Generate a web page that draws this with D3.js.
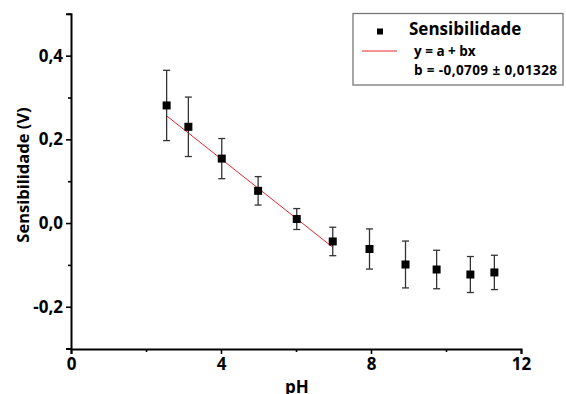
<!DOCTYPE html>
<html><head><meta charset="utf-8">
<script src="https://cdn.jsdelivr.net/npm/d3@7"></script>
<style>
body{margin:0;background:#fff;}
text{font-family:"Open Sans","Liberation Sans",sans-serif;font-weight:bold;}
</style></head>
<body><svg id="c" width="566" height="394"></svg>
<script>
const pH = [2.55, 3.13, 4.02, 4.99, 6.02, 6.98, 7.96, 8.92, 9.75, 10.65, 11.29];
const sens = [0.281, 0.230, 0.154, 0.077, 0.0096, -0.044, -0.062, -0.099, -0.111, -0.123, -0.118];
const errs = [0.084, 0.071, 0.048, 0.034, 0.025, 0.034, 0.048, 0.056, 0.046, 0.043, 0.041];
const fitA = 0.437, fitB = -0.0709;
const fitRange = [2.55, 6.98];
const xTicks = [0, 4, 8, 12];
const xMinor = [2, 6, 10];
const yTicks = [-0.2, 0, 0.2, 0.4];
const yMinor = [-0.3, -0.1, 0.1, 0.3, 0.5];
const legendTitle = "Sensibilidade";
const legendLines = ["y = a + bx", "b = -0,0709 ± 0,01328"];

const svg = d3.select("#c");
const x = d3.scaleLinear().domain([0, 12]).range([71, 521]);
const y = d3.scaleLinear().domain([-0.3, 0.5]).range([348.6, 13.8]);
const fmt = d => d3.format(".1f")(d).replace(".", ",").replace("−","-");

// axes
const xa = svg.append("g").attr("transform", "translate(0,349)")
  .call(d3.axisBottom(x).tickValues(xTicks).tickSize(5).tickPadding(4).tickFormat(d3.format("d")));
const xm = svg.append("g").attr("transform", "translate(0,349)")
  .call(d3.axisBottom(x).tickValues(xMinor).tickSize(3).tickFormat(""));
const ya = svg.append("g").attr("transform", "translate(71,0)")
  .call(d3.axisLeft(y).tickValues(yTicks).tickSize(5).tickPadding(3).tickFormat(fmt));
const ym = svg.append("g").attr("transform", "translate(71,0)")
  .call(d3.axisLeft(y).tickValues(yMinor).tickSize(3).tickFormat(""));
[xa, xm, ya, ym].forEach(g => {
  g.select(".domain").attr("stroke", "#000").attr("stroke-width", 2);
  g.selectAll(".tick line").attr("stroke", "#000").attr("stroke-width", 1.6);
  g.selectAll(".tick text").attr("fill", "#000").attr("font-size", 17)
    .attr("font-family", "'Open Sans',sans-serif").attr("font-weight", "bold");
});
xm.select(".domain").remove(); ym.select(".domain").remove();

svg.append("text").attr("x", 297).attr("y", 393).attr("text-anchor", "middle")
  .attr("font-size", 17).text("pH");
svg.append("text").attr("transform", "translate(29,175) rotate(-90)").attr("text-anchor", "middle")
  .attr("font-size", 16.5).text("Sensibilidade (V)");

// fit line
svg.append("line")
  .attr("x1", x(fitRange[0])).attr("y1", y(fitA + fitB * fitRange[0]))
  .attr("x2", x(fitRange[1])).attr("y2", y(fitA + fitB * fitRange[1]))
  .attr("stroke", "#e8262a").attr("stroke-width", 1);

// error bars
const data = pH.map((p, i) => ({p, v: sens[i], e: errs[i]}));
const eb = svg.append("g").attr("stroke", "#333").attr("stroke-width", 1.3);
data.forEach(d => {
  eb.append("line").attr("x1", x(d.p)).attr("x2", x(d.p)).attr("y1", y(d.v + d.e)).attr("y2", y(d.v - d.e));
  eb.append("line").attr("x1", x(d.p) - 3.5).attr("x2", x(d.p) + 3.5).attr("y1", y(d.v + d.e)).attr("y2", y(d.v + d.e));
  eb.append("line").attr("x1", x(d.p) - 3.5).attr("x2", x(d.p) + 3.5).attr("y1", y(d.v - d.e)).attr("y2", y(d.v - d.e));
});
svg.append("g").selectAll("rect").data(data).join("rect")
  .attr("x", d => x(d.p) - 4).attr("y", d => y(d.v) - 4)
  .attr("width", 8).attr("height", 8).attr("fill", "#000");

// legend
const lg = svg.append("g");
lg.append("rect").attr("x", 353).attr("y", 13.5).attr("width", 210).attr("height", 71.5)
  .attr("fill", "#fff").attr("stroke", "#777").attr("stroke-width", 1.3);
lg.append("rect").attr("x", 377).attr("y", 28.5).attr("width", 6).attr("height", 6).attr("fill", "#000");
lg.append("text").attr("x", 409).attr("y", 35).attr("font-size", 17).text(legendTitle);
lg.append("line").attr("x1", 362).attr("x2", 397).attr("y1", 51).attr("y2", 51)
  .attr("stroke", "#e8262a").attr("stroke-width", 1);
legendLines.forEach((t, i) => {
  lg.append("text").attr("x", 414).attr("y", 55.5 + i * 19).attr("font-size", 13.5)
    .attr("textLength", i === 1 ? 143 : null).text(t);
});
</script></body></html>
